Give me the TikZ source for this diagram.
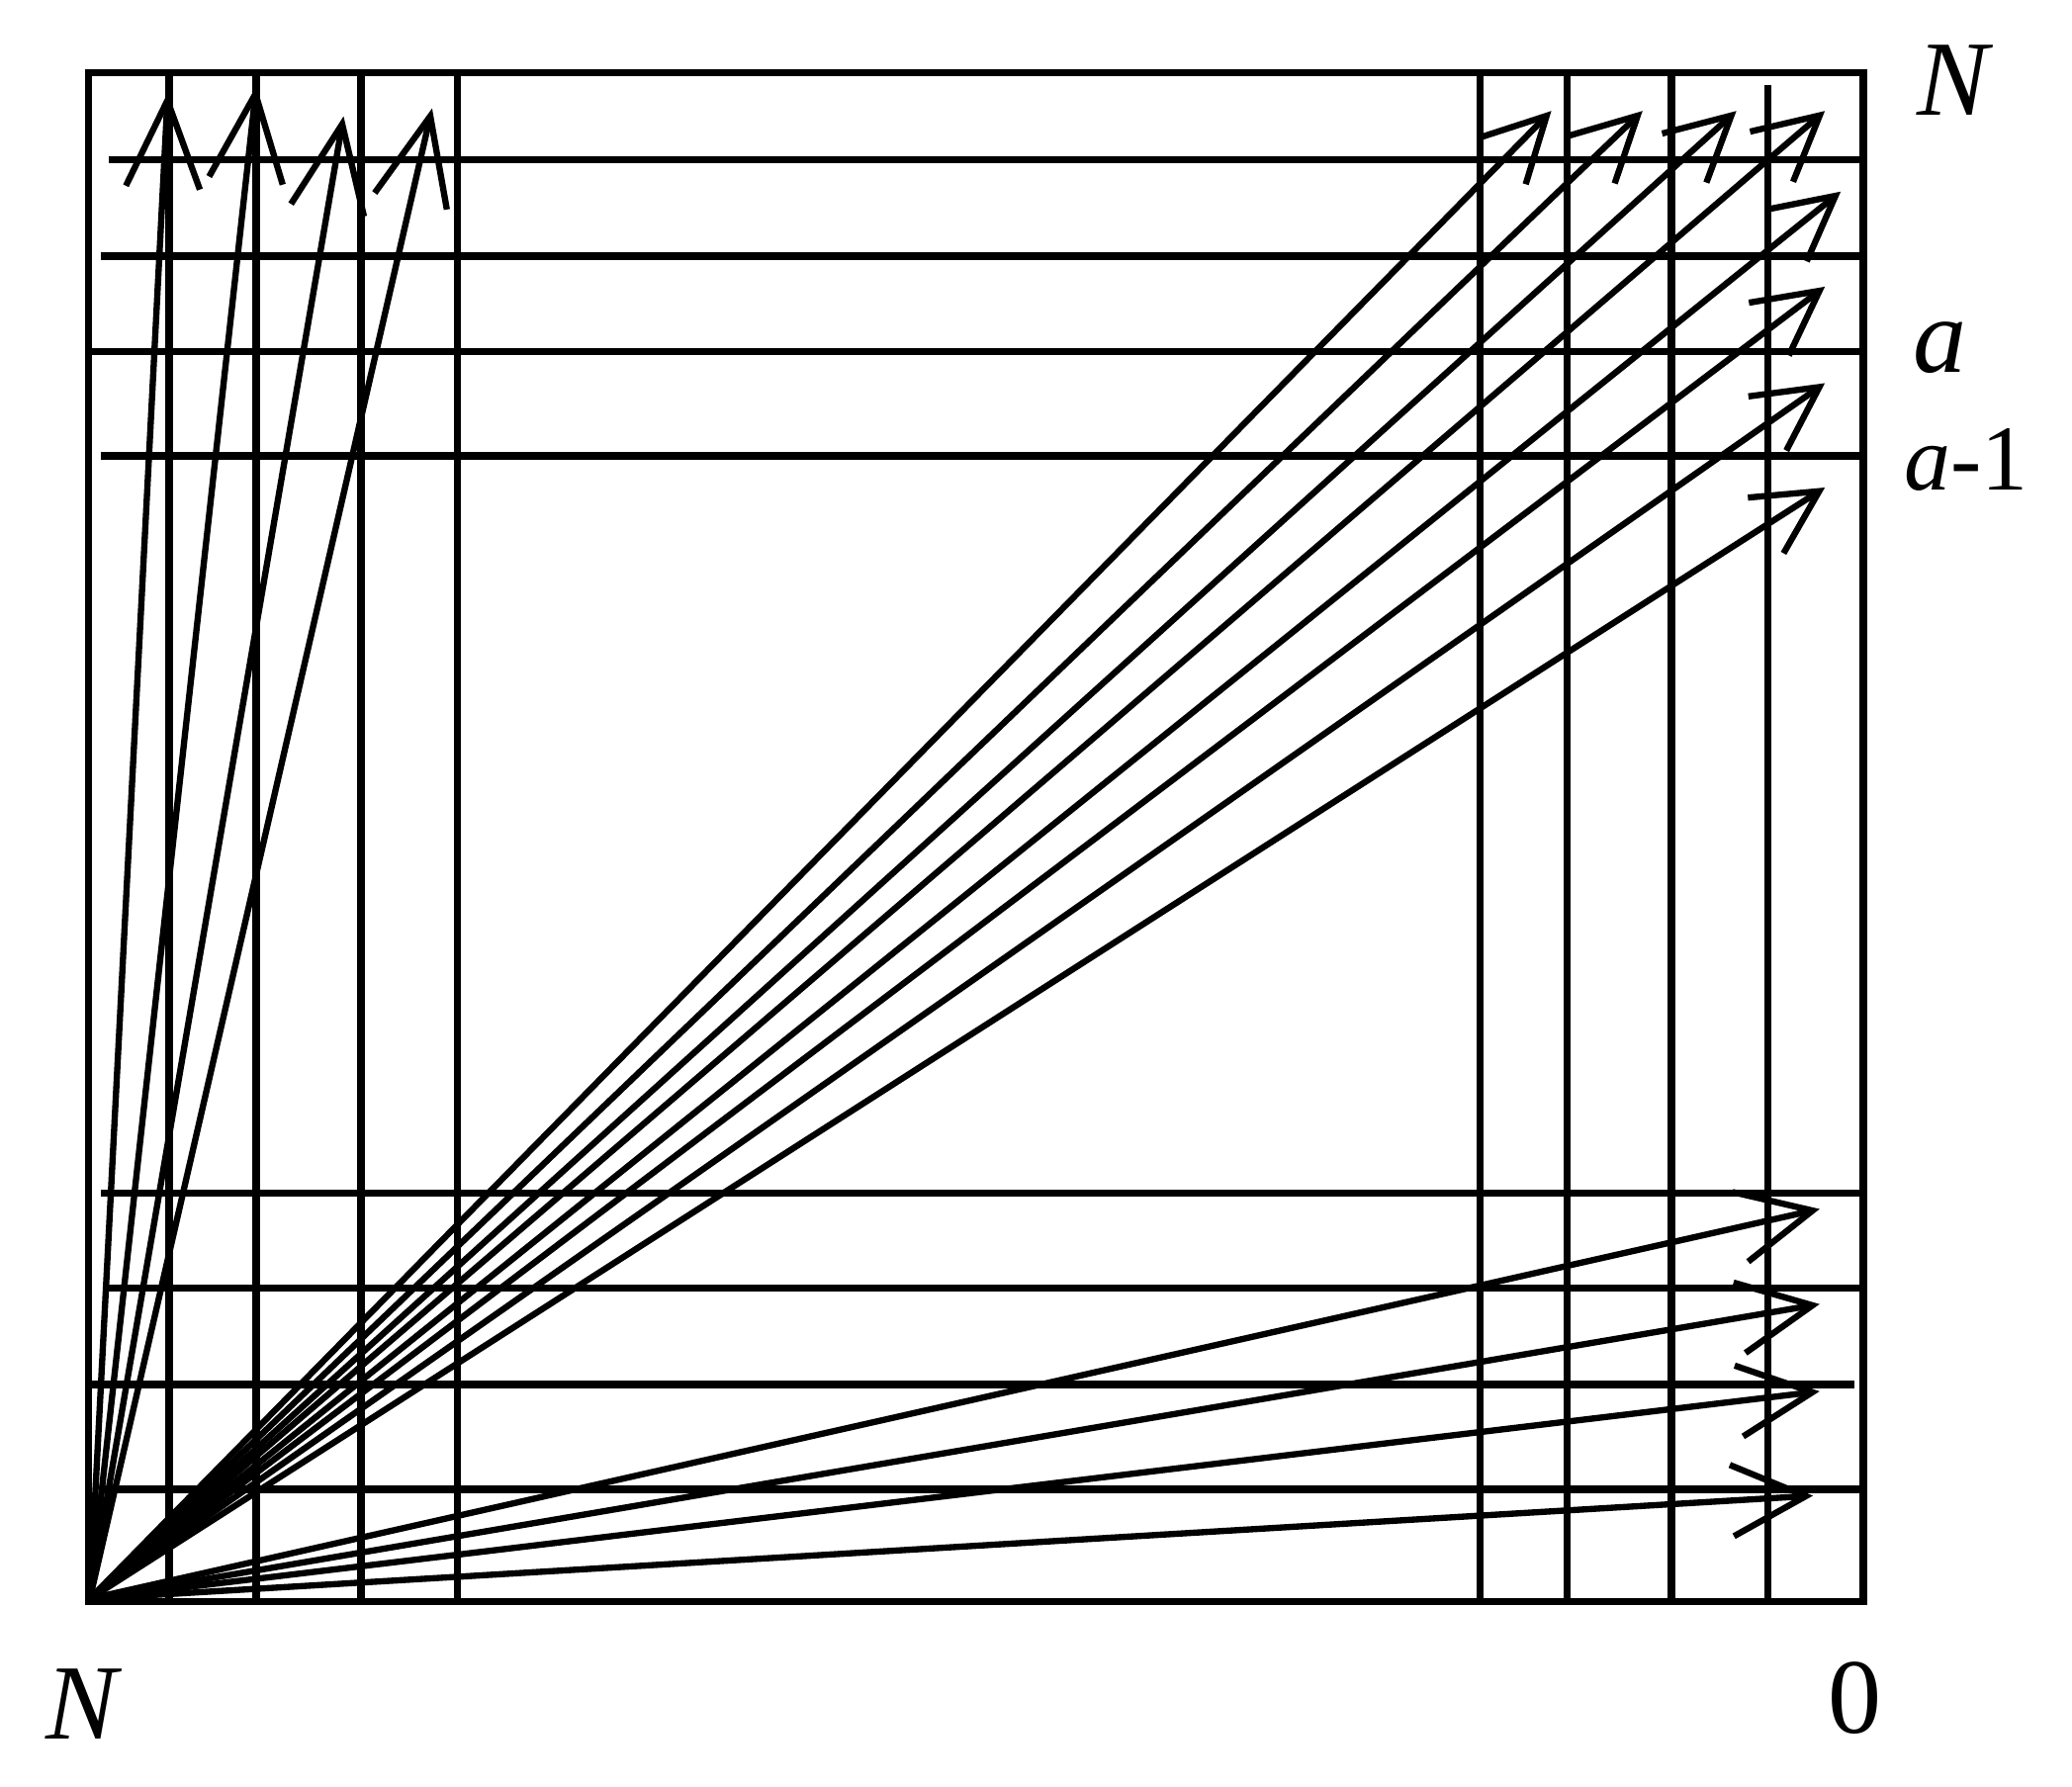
\documentclass[tikz,border=0pt]{standalone}
\usepackage{fontspec}
\setmainfont{Liberation Serif}
\usetikzlibrary{arrows.meta}
\begin{document}
\begin{tikzpicture}[x=0.01cm,y=-0.01cm,
  gridline/.style={line width=1.6pt},
  arrA/.style={line width=1.35pt,-{Straight Barb[length=0.66cm,width=0.56cm]}},
  arrB/.style={line width=1.35pt,-{Straight Barb[length=0.48cm,width=0.5cm]}},
  arrC/.style={line width=1.35pt,-{Straight Barb[length=0.56cm,width=0.54cm]}},
  lbl/.style={inner sep=0pt,font=\fontsize{23}{26}\selectfont},
  lblsmall/.style={inner sep=0pt,font=\fontsize{20}{24}\selectfont}]
\useasboundingbox (0,0) rectangle (1568,1352);
% frame
\draw[gridline] (67,55) rectangle (1410,1212);
% vertical grid lines
\foreach \x in {128,194,273,346,1120,1186,1265}
  \draw[gridline] (\x,55) -- (\x,1212);
\draw[gridline] (1338,64) -- (1338,1212);
% horizontal grid lines
\draw[gridline] (82,121) -- (1410,121);
\draw[gridline] (76,194) -- (1410,194);
\draw[gridline] (67,266) -- (1410,266);
\draw[gridline] (76,345) -- (1410,345);
\draw[gridline] (76,903) -- (1410,903);
\draw[gridline] (82,975) -- (1410,975);
\draw[gridline] (67,1048) -- (1403,1048);
\draw[gridline] (76,1127) -- (1410,1127);
% origin and arrow tips
\coordinate (O) at (68,1210);
\coordinate (A1) at (127,70);
\coordinate (A2) at (194,65);
\coordinate (A3) at (260,88);
\coordinate (A4) at (327,82);
\coordinate (B1) at (1174,84);
\coordinate (B2) at (1243,84);
\coordinate (B3) at (1314,84);
\coordinate (B4) at (1381,84);
\coordinate (B5) at (1393,145);
\coordinate (B6) at (1381,217);
\coordinate (B7) at (1381,290);
\coordinate (B8) at (1381,369);
\coordinate (C1) at (1377,915);
\coordinate (C2) at (1377,987);
\coordinate (C3) at (1377,1053);
\coordinate (C4) at (1372,1132);
\foreach \t in {A1,A2,A3,A4} \draw[arrA] (O) -- (\t);
\foreach \t in {B1,B2,B3,B4,B5,B6,B7,B8} \draw[arrB] (O) -- (\t);
\foreach \t in {C1,C2,C3,C4} \draw[arrC] (O) -- (\t);
% labels
\node[lbl] (nTop) at (1480,61) {\textit{N}};
\node[lbl] (aLbl) at (1468,263) {\textit{a}};
\node[lblsmall] (am1) at (1488,348) {\textit{a}-1};
\node[lbl] (nBot) at (64,1290) {\textit{N}};
\node[lbl] (zero) at (1404,1285) {0};
\end{tikzpicture}
\end{document}
